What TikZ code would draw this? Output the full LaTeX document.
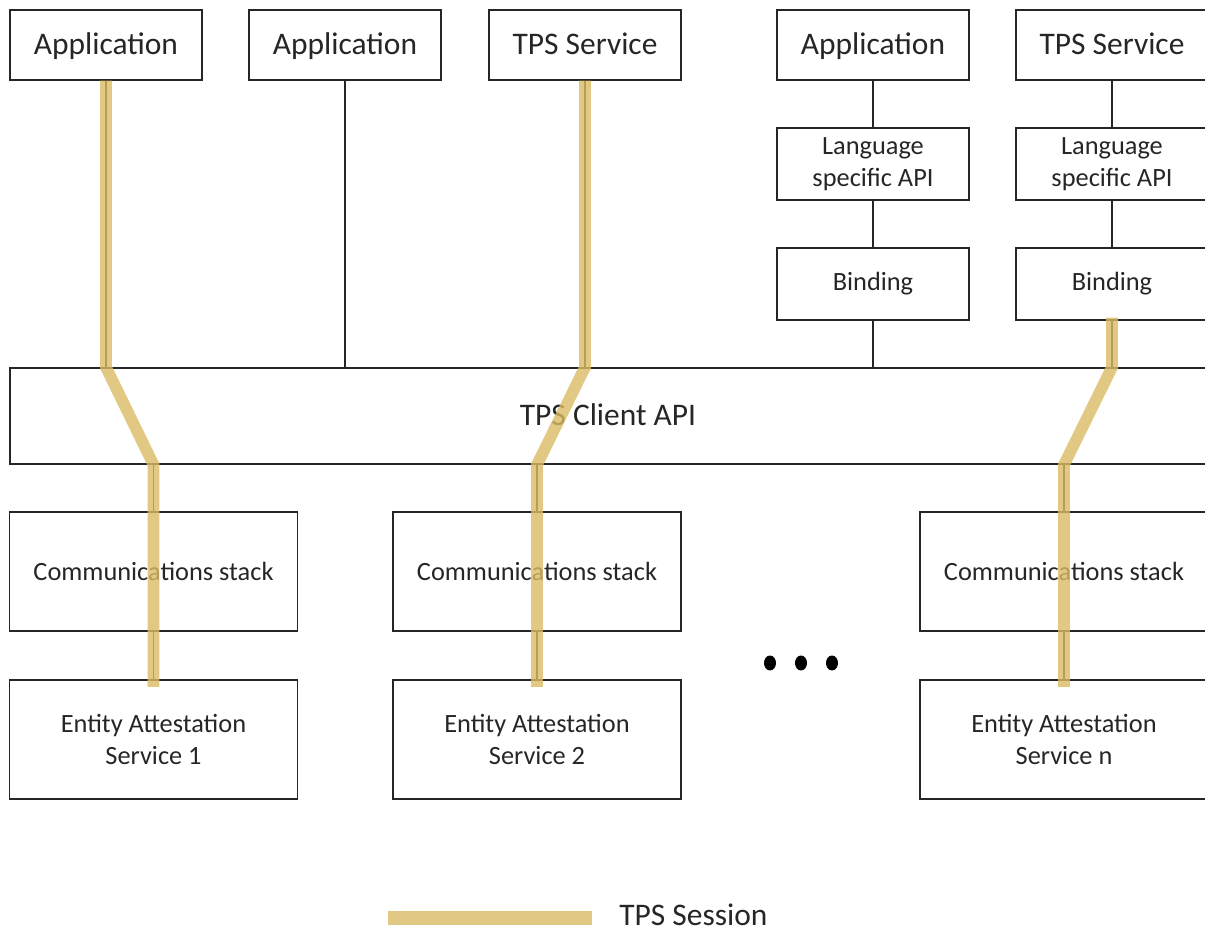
\documentclass[tikz,border=0pt]{standalone}
\usepackage{fontspec}
\setmainfont{Carlito}
\usepackage{tikz}
\usetikzlibrary{shapes.geometric}

\definecolor{sessiongold}{RGB}{218,188,100}
\definecolor{ink}{RGB}{38,38,38}

\tikzset{
  box/.style={draw=ink, line width=0.8pt, minimum width=3.84cm, minimum height=1.4cm,
    inner sep=0pt, text=ink, font=\fontsize{17.9}{21}\selectfont},
  bigtext/.style={text height=15.2pt, text depth=3.9pt},
  apibox/.style={box, minimum height=1.44cm, align=center, font=\fontsize{15}{18.5}\selectfont},
  stackbox/.style={box, minimum width=5.76cm, minimum height=2.38cm, align=center,
    font=\fontsize{15}{18.5}\selectfont},
  link/.style={draw=ink, line width=0.7pt},
  session/.style={draw=sessiongold, line width=6.6pt, opacity=0.8}
}

\begin{document}
\begin{tikzpicture}[x=0.02cm,y=-0.02cm]
    \useasboundingbox (0,0) rectangle (1205,932);

    % top row
    \node[box, bigtext] (app1) at (106,45) {Application};
    \node[box, bigtext] (app2) at (345,45) {Application};
    \node[box, bigtext] (tps1) at (585,45) {TPS Service};
    \node[box, bigtext] (app3) at (873,45) {Application};
    \node[box, bigtext] (tps2) at (1112,45) {TPS Service};

    % language API and binding
    \node[apibox] (lang1) at (873,164) {Language\\specific API};
    \node[apibox] (lang2) at (1112,164) {Language\\specific API};
    \node[apibox] (bind1) at (873,284) {Binding};
    \node[apibox] (bind2) at (1112,284) {Binding};

    % client api
    \node[box, bigtext, minimum width=23.92cm, minimum height=1.92cm] (client) at (608,416) {TPS Client API};

    % stacks and services
    \node[stackbox] (comm1) at (153.5,571.5) {Communications stack};
    \node[stackbox] (comm2) at (537,571.5) {Communications stack};
    \node[stackbox] (comm3) at (1064,571.5) {Communications stack};
    \node[stackbox] (ent1) at (153.5,739.5) {Entity Attestation\\Service 1};
    \node[stackbox] (ent2) at (537,739.5) {Entity Attestation\\Service 2};
    \node[stackbox] (ent3) at (1064,739.5) {Entity Attestation\\Service n};

    % draw connectors
    \foreach \top in {app1,app2,tps1,bind1,bind2}
      \draw[link] (\top.south) -- (\top.south |- client.north);
    \draw[link] (app3) -- (lang1) -- (bind1);
    \draw[link] (tps2) -- (lang2) -- (bind2);
    \foreach \st/\en in {comm1/ent1,comm2/ent2,comm3/ent3} {
      \draw[link] (\st.north |- client.south) -- (\st.north);
      \draw[link] (\st.south) -- (\en.north);
    }

    % dots
    \foreach \d [count=\i] in {770,801,832}
      \node[fill=black, ellipse, inner sep=0pt, minimum width=0.24cm, minimum height=0.3cm] (dot\i) at (\d,663) {};

    % sessions
    \draw[session] (app1.south) -- (app1.south |- client.north)
      -- (comm1.north |- client.south) -- ([yshift=-0.15cm]ent1.north);
    \draw[session] (tps1.south) -- (tps1.south |- client.north)
      -- (comm2.north |- client.south) -- ([yshift=-0.15cm]ent2.north);
    \draw[session] ([yshift=0.06cm]bind2.south) -- (bind2.south |- client.north)
      -- (comm3.north |- client.south) -- ([yshift=-0.15cm]ent3.north);

    % legend
    \coordinate (legA) at (388,918);
    \coordinate (legB) at (592,918);
    \draw[session, line width=8pt] (legA) -- (legB);
    \node[anchor=west, inner sep=0pt, text=ink, font=\fontsize{17.9}{21}\selectfont] (legtext) at (619,915) {TPS Session};
  \end{tikzpicture}
\end{document}
